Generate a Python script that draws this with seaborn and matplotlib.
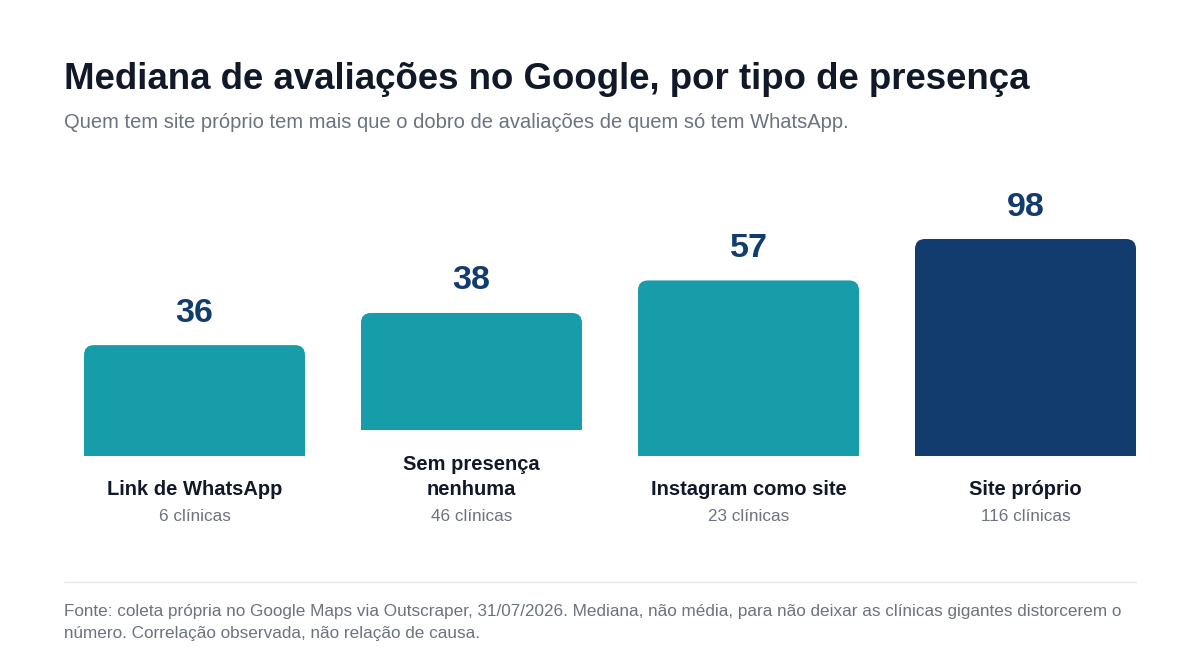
import numpy as np
import pandas as pd
import matplotlib
matplotlib.use('Agg')
import matplotlib.pyplot as plt
import seaborn as sns
from matplotlib.patches import FancyBboxPatch, Rectangle
from matplotlib.lines import Line2D

# data
categories = ['Link de WhatsApp', 'Sem presença\nnenhuma', 'Instagram como site', 'Site próprio']
medians = [36, 38, 57, 98]
clinics = [6, 46, 23, 116]
count_labels = [f'{n} clínicas' for n in clinics]

TEAL = '#179ca9'
NAVY = '#123c6e'
colors = [TEAL, TEAL, TEAL, NAVY]

title = 'Mediana de avaliações no Google, por tipo de presença'
subtitle = 'Quem tem site próprio tem mais que o dobro de avaliações de quem só tem WhatsApp.'
footer = ('Fonte: coleta própria no Google Maps via Outscraper, 31/07/2026. Mediana, não média, para não deixar as clínicas gigantes distorcerem o\n'
          'número. Correlação observada, não relação de causa.')

sns.set_theme(style='white')
plt.rcParams['font.family'] = ['Liberation Sans', 'DejaVu Sans']

W, H = 1200, 672
fig = plt.figure(figsize=(W / 100, H / 100), dpi=100)
fig.patch.set_facecolor('white')

px_per_unit = 3.08          # vertical scale of the bars
pitch = 277                 # px between bar centres
base_px = 456               # baseline, px from top
ax_top_px = 150
ax = fig.add_axes([56 / W, (H - base_px) / H, 4 * pitch / W, (base_px - ax_top_px) / H])

df = pd.DataFrame({'cat': categories, 'val': medians})
sns.barplot(data=df, x='cat', y='val', hue='cat', palette=colors, saturation=1,
            width=221 / pitch, legend=False, ax=ax)
ax.set_xlim(-0.5, 3.5)
ax.set_ylim(0, (base_px - ax_top_px) / px_per_unit)
ax.axis('off')

max_h = 217 / px_per_unit            # the tallest bar is clipped by the layout box
lift = 26 / px_per_unit              # a two-line label pushes its bar up by one line
r = 10 / pitch
aspect = pitch / px_per_unit

bars = sorted(ax.patches, key=lambda p: p.get_x())
for i, p in enumerate(bars):
    x0, w = p.get_x(), p.get_width()
    h = min(p.get_height(), max_h)
    base = categories[i].count('\n') * lift
    p.remove()
    ax.add_patch(FancyBboxPatch((x0, base), w, h, boxstyle=f'round,pad=0,rounding_size={r}',
                                mutation_aspect=aspect, fc=colors[i], ec='none'))
    ax.add_patch(Rectangle((x0, base), w, h / 2, fc=colors[i], ec='none'))
    ax.annotate(str(medians[i]), (x0 + w / 2, base + h), xytext=(0, 32), textcoords='offset pixels',
                ha='center', va='center', fontsize=24.5, fontweight='bold', color=NAVY,
                annotation_clip=False)
    ax.annotate(categories[i], (x0 + w / 2, 0), xytext=(0, -39), textcoords='offset pixels',
                ha='center', va='baseline', fontsize=14.5, fontweight='bold', color='#111827',
                linespacing=1.42, annotation_clip=False)
    ax.annotate(count_labels[i], (x0 + w / 2, 0), xytext=(0, -65), textcoords='offset pixels',
                ha='center', va='baseline', fontsize=12.3, color='#6b7280',
                annotation_clip=False)

fig.text(64 / W, 1 - 89 / H, title, fontsize=26.4, fontweight='bold', color='#111827', va='baseline')
fig.text(64 / W, 1 - 128 / H, subtitle, fontsize=14.5, color='#6b7280', va='baseline')
fig.add_artist(Line2D([64 / W, 1136 / W], [1 - 582 / H] * 2, color='#e5e7eb', lw=1))
fig.text(64 / W, 1 - 638 / H, footer, fontsize=12.3, color='#6b7280', va='baseline', linespacing=1.55)

fig.savefig('out.png', dpi=100, facecolor='white')
